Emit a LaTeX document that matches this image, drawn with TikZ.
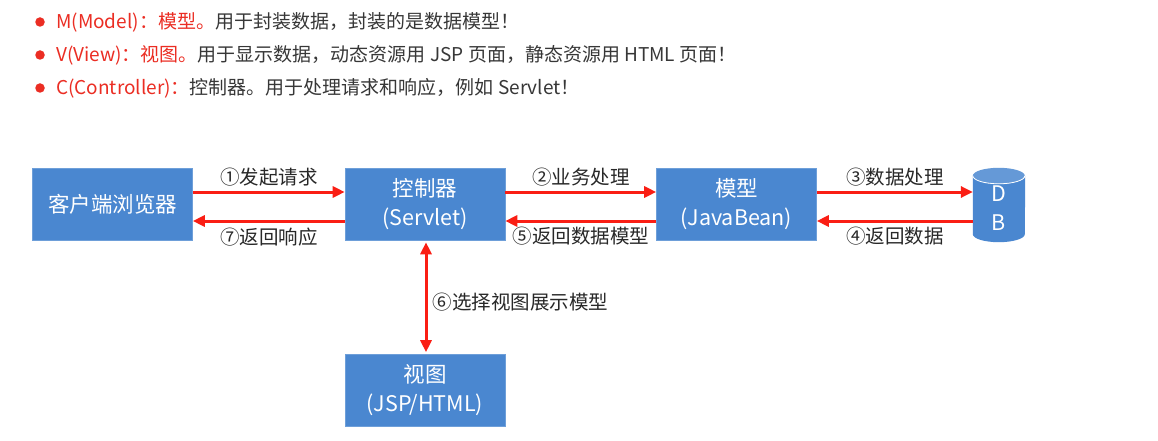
\documentclass[tikz,border=0pt]{standalone}
\usepackage{fontspec}
\setmainfont{Noto Sans CJK SC}
\usetikzlibrary{arrows.meta,calc}
\definecolor{boxblue}{RGB}{74,135,208}
\definecolor{arrred}{RGB}{250,30,20}
\definecolor{titred}{RGB}{235,45,35}
\definecolor{txtgray}{RGB}{55,55,55}
\definecolor{lblgray}{RGB}{40,40,40}
\tikzset{
  blk/.style={fill=boxblue, draw=boxblue!80!white, line width=0.6pt, minimum width=160pt, minimum height=72pt, inner sep=0pt, align=center, text=white, font=\fontsize{21.5}{29}\selectfont},
  conn/.style={draw=arrred, line width=3pt, -{Triangle[length=12pt,width=11pt]}},
  conn2/.style={draw=arrred, line width=3pt, {Triangle[length=12pt,width=11pt]}-{Triangle[length=12pt,width=11pt]}},
  lbl/.style={text=lblgray, inner sep=0pt, font=\fontsize{19.5}{23}\selectfont},
  topline/.style={anchor=west, inner sep=0pt, text=txtgray, font=\fontsize{19}{23}\selectfont},
  bullet/.style={circle, fill=titred, minimum size=9.5pt, inner sep=0pt}
}
\begin{document}
\begin{tikzpicture}[x=1pt,y=-1pt]
\useasboundingbox[fill=white] (0,0) rectangle (1158,441);
% top text
\node[bullet] (b1) at (40,22) {};
\node[bullet] (b2) at (40,55) {};
\node[bullet] (b3) at (40,88) {};
\node[topline] (t1) at (56,22) {\textcolor{titred}{M(Model)：模型。}用于封装数据，封装的是数据模型！};
\node[topline] (t2) at (56,55) {\textcolor{titred}{V(View)：视图。}用于显示数据，动态资源用 JSP 页面，静态资源用 HTML 页面！};
\node[topline] (t3) at (56,88) {\textcolor{titred}{C(Controller)：}控制器。用于处理请求和响应，例如 Servlet！};
% boxes
\node[blk] (client) at (112.5,204) {客户端浏览器};
\node[blk] (ctrl) at (425,204) {控制器\\(Servlet)};
\node[blk] (model) at (736.5,204) {模型\\(JavaBean)};
\node[blk] (view) at (425,390.5) {视图\\(JSP/HTML)};
% DB cylinder
\node[minimum width=52pt, minimum height=74pt, inner sep=0pt] (db) at (999,205) {};
\fill[boxblue] ($(db.north west)+(0,8)$) -- ($(db.south west)+(0,-8)$)
  arc[start angle=180, end angle=360, x radius=26pt, y radius=8pt]
  -- ($(db.north east)+(0,8)$)
  arc[start angle=0, end angle=-180, x radius=26pt, y radius=8pt] -- cycle;
\fill[boxblue!85!white] ($(db.north west)+(0,8)$) arc[start angle=180, end angle=-180, x radius=26pt, y radius=8pt];
\draw[white, line width=0.8pt] ($(db.north west)+(0,8)$) arc[start angle=180, end angle=360, x radius=26pt, y radius=8pt];
\node[text=white, font=\fontsize{21.5}{29}\selectfont, align=center, inner sep=0pt] (dbtxt) at (999,208) {D\\B};
% connectors
\draw[conn] ($(client.east)+(0,-12)$) -- ($(ctrl.west)+(0,-12)$) node[lbl, midway, above=4pt] (l1) {①发起请求};
\draw[conn] ($(ctrl.west)+(0,17)$) -- ($(client.east)+(0,17)$) node[lbl, midway, below=5pt] (l7) {⑦返回响应};
\draw[conn] ($(ctrl.east)+(0,-12)$) -- ($(model.west)+(0,-12)$) node[lbl, midway, above=4pt] (l2) {②业务处理};
\draw[conn] ($(model.west)+(0,17)$) -- ($(ctrl.east)+(0,17)$) node[lbl, midway, below=5pt] (l5) {⑤返回数据模型};
\draw[conn] ($(model.east)+(0,-12)$) -- ($(db.west)+(0,-13)$) node[lbl, midway, above=4pt] (l3) {③数据处理};
\draw[conn] ($(db.west)+(0,16)$) -- ($(model.east)+(0,17)$) node[lbl, midway, below=5pt] (l4) {④返回数据};
\draw[conn2] ($(ctrl.south)+(1,2)$) -- ($(view.north)+(1,-2)$) node[lbl, midway, right=5pt, yshift=-5pt] (l6) {⑥选择视图展示模型};
\end{tikzpicture}
\end{document}
